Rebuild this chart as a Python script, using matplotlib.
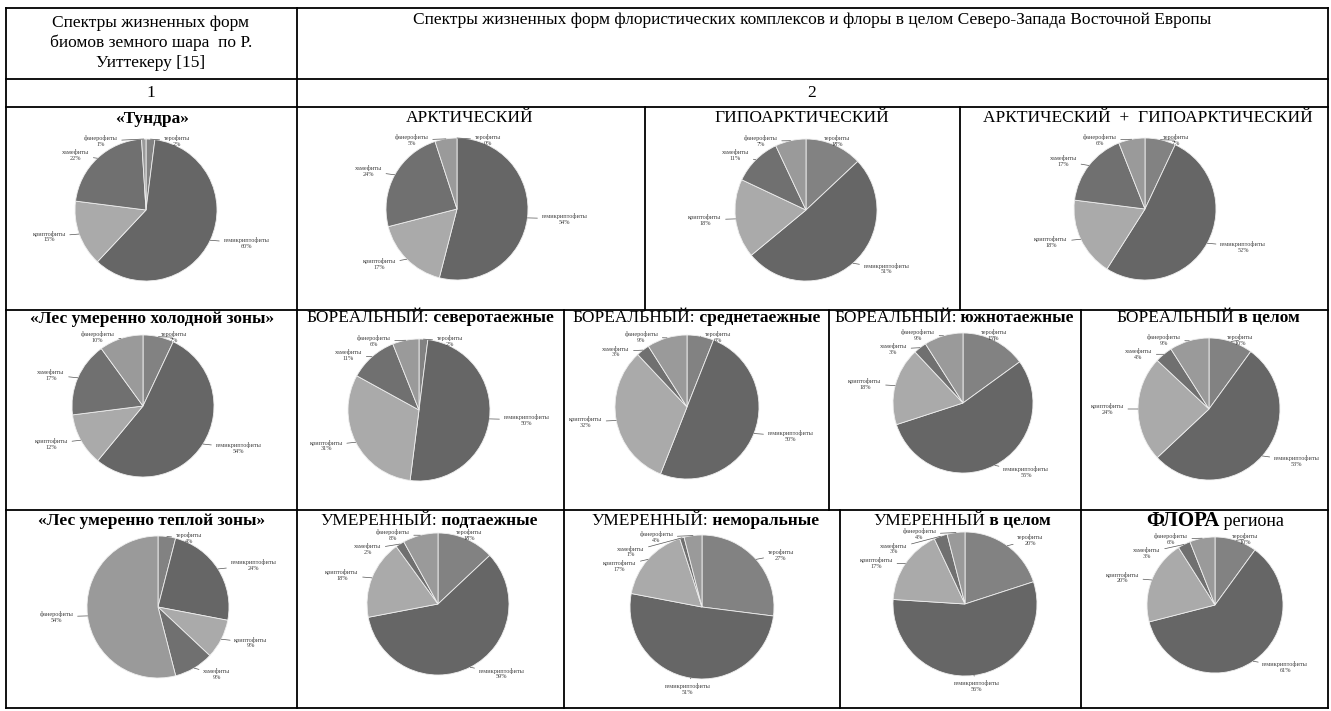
import numpy as np
import matplotlib
matplotlib.use("Agg")
from matplotlib import pyplot as plt

# жизненные формы (порядок секторов по часовой стрелке от 12 часов)
life_forms = ['терофиты', 'гемикриптофиты', 'криптофиты', 'хамефиты', 'фанерофиты']
colors = ['#828282', '#666666', '#aaaaaa', '#707070', '#9a9a9a']

# спектры, %
tundra = [2, 60, 15, 22, 1]
arctic = [0, 54, 17, 24, 5]
hypoarctic = [13, 51, 18, 11, 7]
arc_hypo = [7, 52, 18, 17, 6]
forest_cold = [7, 54, 12, 17, 10]
boreal_north = [2, 50, 31, 11, 6]
boreal_mid = [6, 50, 32, 3, 9]
boreal_south = [15, 55, 18, 3, 9]
boreal_all = [10, 53, 24, 4, 9]
forest_warm = [4, 24, 9, 9, 54]
temp_subtaiga = [13, 59, 18, 2, 8]
temp_nemoral = [27, 51, 17, 1, 4]
temp_all = [20, 56, 17, 3, 4]
flora = [10, 61, 20, 3, 6]

# заголовки (куски текста и их начертание)
titles = [
    [('«Тундра»', 'bold', 12.5)],
    [('АРКТИЧЕСКИЙ', 'normal', 12.5)],
    [('ГИПОАРКТИЧЕСКИЙ', 'normal', 12.5)],
    [('АРКТИЧЕСКИЙ  +  ГИПОАРКТИЧЕСКИЙ', 'normal', 12.5)],
    [('«Лес умеренно холодной зоны»', 'bold', 12.5)],
    [('БОРЕАЛЬНЫЙ:', 'normal', 12.5), (' северотаежные', 'bold', 12.5)],
    [('БОРЕАЛЬНЫЙ:', 'normal', 12.5), (' среднетаежные', 'bold', 12.5)],
    [('БОРЕАЛЬНЫЙ:', 'normal', 12.5), (' южнотаежные', 'bold', 12.5)],
    [('БОРЕАЛЬНЫЙ', 'normal', 12.5), (' в целом', 'bold', 12.5)],
    [('«Лес умеренно теплой зоны»', 'bold', 12.5)],
    [('УМЕРЕННЫЙ:', 'normal', 12.5), (' подтаежные', 'bold', 12.5)],
    [('УМЕРЕННЫЙ:', 'normal', 12.5), (' неморальные', 'bold', 12.5)],
    [('УМЕРЕННЫЙ', 'normal', 12.5), (' в целом', 'bold', 12.5)],
    [('ФЛОРА', 'bold', 15), (' региона', 'normal', 13)],
]
spectra = [tundra, arctic, hypoarctic, arc_hypo,
           forest_cold, boreal_north, boreal_mid, boreal_south, boreal_all,
           forest_warm, temp_subtaiga, temp_nemoral, temp_all, flora]

header_left = 'Спектры жизненных форм\nбиомов земного шара  по Р.\nУиттекеру [15]'
header_right = ('Спектры жизненных форм флористических комплексов '
                'и флоры в целом Северо-Запада Восточной Европы')

# раскладка: центр круга, радиус, центр заголовка (пиксели)
pies_pos = [(146, 210, 71), (457, 209, 71), (806, 210, 71), (1145, 209, 71),
            (143, 406, 71), (419, 410, 71), (687, 407, 72), (963, 403, 70), (1209, 409, 71),
            (158, 607, 71), (438, 604, 71), (702, 607, 72), (965, 604, 72), (1215, 605, 68)]
title_pos = [(152, 119), (470, 118), (802, 118), (1148, 118),
             (152, 319), (430, 318), (696, 318), (954, 318), (1208, 318),
             (152, 521), (429, 521), (705, 521), (962, 521), (1215, 521)]

W, H = 1331, 711
fig = plt.figure(figsize=(W / 100, H / 100), dpi=100)
fig.patch.set_facecolor('white')
ax0 = fig.add_axes([0, 0, 1, 1])
ax0.set_xlim(0, W)
ax0.set_ylim(H, 0)
ax0.axis('off')

serif = 'Liberation Serif'

# линии таблицы
lw = 1.3
for y in [8, 79, 107, 310, 510, 708]:
    ax0.plot([6, 1328], [y, y], color='black', lw=lw)
for x in [6, 297, 1328]:
    ax0.plot([x, x], [8, 708], color='black', lw=lw)
for x in [645, 960]:
    ax0.plot([x, x], [107, 310], color='black', lw=lw)
for x in [564, 829, 1081]:
    ax0.plot([x, x], [310, 510], color='black', lw=lw)
for x in [564, 840, 1081]:
    ax0.plot([x, x], [510, 708], color='black', lw=lw)

ax0.text(151, 43, header_left, fontsize=12.5, family=serif, ha='center', va='center',
         linespacing=1.3)
ax0.text(812, 20, header_right, fontsize=12.5, family=serif, ha='center', va='center')
ax0.text(151, 93, '1', fontsize=12.5, family=serif, ha='center', va='center')
ax0.text(812, 93, '2', fontsize=12.5, family=serif, ha='center', va='center')

renderer = fig.canvas.get_renderer()


def draw_title(cx, cy, parts):
    texts = []
    for s, w, fs in parts:
        t = ax0.text(0, cy, s, fontsize=fs, fontweight=w, family=serif,
                     ha='left', va='center')
        texts.append(t)
    widths = [t.get_window_extent(renderer).width for t in texts]
    x = cx - sum(widths) / 2
    for t, wd in zip(texts, widths):
        t.set_x(x)
        x += wd


def draw_pie(cx, cy, r, vals):
    k = 1.7
    ax = fig.add_axes([(cx - k * r) / W, (H - cy - k * r) / H, 2 * k * r / W, 2 * k * r / H])
    ax.pie(vals, colors=colors, startangle=90, counterclock=False, radius=1,
           wedgeprops=dict(edgecolor='#eeeeee', linewidth=0.6))
    ax.set_xlim(-k, k)
    ax.set_ylim(-k, k)
    ax.axis('off')
    tot = float(sum(vals))
    cum = 0
    n = len(vals)
    labs = []
    for i, v in enumerate(vals):
        mid = np.radians(90 - (cum + v / 2) / tot * 360)
        cum += v
        c, s = np.cos(mid), np.sin(mid)
        if s > 0.85 and i in (0, n - 1):
            # маленькие сектора у вершины: подписи вправо/влево
            if i == 0:
                x, ha = 0.25, 'left'
            else:
                x, ha = -0.4, 'right'
            y = 0.97
        elif s > 0.7 and i == n - 2:
            x, y, ha = -0.8, 0.78, 'right'
        elif c > 0.25:
            x, y, ha = 1.15 * c + 0.05, 1.1 * s, 'left'
        elif c < -0.25:
            x, y, ha = 1.15 * c - 0.05, 1.1 * s, 'right'
        else:
            x, y, ha = 1.3 * c, 1.15 * s, 'center'
        labs.append([i, c, s, x, y, ha])

    # раздвигаем подписи слева, чтобы не налезали друг на друга
    left = sorted([l for l in labs if l[5] == 'right'], key=lambda l: -l[4])
    for a, b in zip(left[:-1], left[1:]):
        if a[4] - b[4] < 0.2:
            b[4] = a[4] - 0.2

    for i, c, s, x, y, ha in labs:
        ax.annotate('%s\n%d%%' % (life_forms[i], vals[i]),
                    xy=(c, s), xytext=(x, y),
                    fontsize=4.5, family=serif, color='#404040',
                    ha=ha, va='center', multialignment='center', annotation_clip=False,
                    arrowprops=dict(arrowstyle='-', color='#555555', lw=0.5,
                                    shrinkA=1, shrinkB=0))


for (cx, cy, r), vals in zip(pies_pos, spectra):
    draw_pie(cx, cy, r, vals)
for (tx, ty), parts in zip(title_pos, titles):
    draw_title(tx, ty, parts)

fig.savefig('out.png', dpi=100, facecolor='white')
